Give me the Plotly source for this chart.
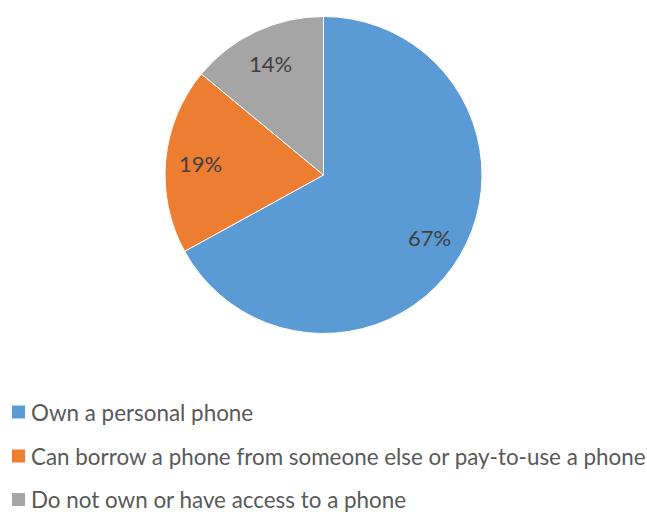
import math
import plotly.graph_objects as go

# Phone access categories and their shares (%)
categories = [
    "Own a personal phone",
    "Can borrow a phone from someone else or pay-to-use a phone",
    "Do not own or have access to a phone",
]
shares = [67, 19, 14]
colors = ["#5B9BD5", "#ED7D31", "#A5A5A5"]

W, H = 647, 512
FONT = "Lato"

# Pie geometry (pixels)
cx, cy, R = 323.5, 175.0, 158.5

fig = go.Figure(
    go.Pie(
        labels=categories,
        values=shares,
        sort=False,
        direction="clockwise",
        rotation=0,
        marker=dict(colors=colors, line=dict(color="white", width=1)),
        textinfo="none",
        hoverinfo="label+percent",
        showlegend=False,
        domain=dict(
            x=[(cx - R) / W, (cx + R) / W],
            y=[1 - (cy + R) / H, 1 - (cy - R) / H],
        ),
    )
)

annotations = []
shapes = []

# Percentage labels placed along each slice's bisector
total = sum(shares)
cum = 0.0
label_r = 0.78 * R
for v in shares:
    mid = (cum + v / 2) / total * 2 * math.pi  # clockwise from top
    cum += v
    px = cx + label_r * math.sin(mid)
    py = cy - label_r * math.cos(mid)
    annotations.append(
        dict(
            x=px / W, y=1 - py / H, xref="paper", yref="paper",
            text=f"{round(v / total * 100)}%", showarrow=False,
            xanchor="center", yanchor="middle",
            font=dict(family=FONT, size=22, color="#404040"),
        )
    )

# Legend below the pie
row_y = [412.0, 456.0, 499.5]
for name, col, ry in zip(categories, colors, row_y):
    shapes.append(
        dict(
            type="rect", xref="paper", yref="paper",
            x0=12 / W, x1=25 / W,
            y0=1 - (ry + 6.5) / H, y1=1 - (ry - 6.5) / H,
            fillcolor=col, line=dict(width=0),
        )
    )
    annotations.append(
        dict(
            x=30 / W, y=1 - ry / H, xref="paper", yref="paper",
            text=name, showarrow=False, borderpad=0,
            xanchor="left", yanchor="middle",
            font=dict(family=FONT, size=22.4, color="#595959"),
        )
    )

fig.update_layout(
    width=W, height=H,
    margin=dict(l=0, r=0, t=0, b=0),
    paper_bgcolor="white",
    plot_bgcolor="white",
    annotations=annotations,
    shapes=shapes,
)

fig.write_html("out.html")
